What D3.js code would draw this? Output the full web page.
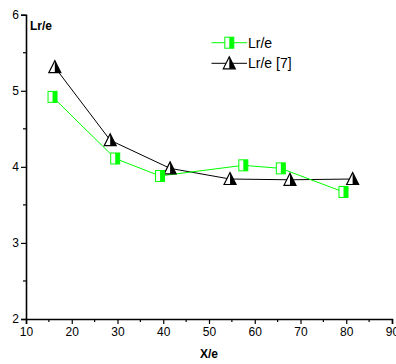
<!DOCTYPE html>
<html>
<head>
<meta charset="utf-8">
<script src="https://cdn.jsdelivr.net/npm/d3@7"></script>
<style>
  body { margin: 0; background: #fff; }
  svg { display: block; font-family: Arial, "Liberation Sans", sans-serif; }
</style>
</head>
<body>
<svg id="chart" width="396" height="364"></svg>
<script>
// datos
const xLr = [15.8, 29.5, 39.3, 57.5, 65.7, 79.4];
const yLr = [4.92, 4.11, 3.88, 4.02, 3.98, 3.67];
const xLr7 = [16.3, 28.4, 41.5, 54.6, 67.7, 81.4];
const yLr7 = [5.31, 4.35, 3.98, 3.84, 3.83, 3.84];
const xTicks = [10, 20, 30, 40, 50, 60, 70, 80, 90];
const yTicks = [2, 3, 4, 5, 6];
const seriesNames = ['Lr/e', 'Lr/e [7]'];

const GREEN = '#00ff00';
const svg = d3.select('#chart');

const x = d3.scaleLinear().domain([10, 90]).range([26, 392]);
const y = d3.scaleLinear().domain([2, 6]).range([319, 14.7]);

// ejes
const xAxis = svg.append('g').attr('transform', `translate(0,${y(2)})`)
  .call(d3.axisBottom(x).tickValues(xTicks).tickSize(5).tickPadding(3).tickFormat(d3.format('d')));
const yAxis = svg.append('g').attr('transform', `translate(${x(10)},0)`)
  .call(d3.axisLeft(y).tickValues(yTicks).tickSize(5).tickPadding(2).tickFormat(d3.format('d')));

[xAxis, yAxis].forEach(g => {
  g.select('.domain').attr('stroke', '#000').attr('stroke-width', 1.6);
  g.selectAll('.tick line').attr('stroke', '#000').attr('stroke-width', 1.2);
  g.selectAll('.tick text').attr('font-size', 12).attr('fill', '#000')
    .attr('font-family', 'Arial, "Liberation Sans", sans-serif');
});

// ticks menores
svg.append('g').selectAll('line').data(d3.range(15, 90, 10)).join('line')
  .attr('x1', d => x(d)).attr('x2', d => x(d))
  .attr('y1', y(2)).attr('y2', y(2) + 3)
  .attr('stroke', '#000').attr('stroke-width', 1.2);
svg.append('g').selectAll('line').data([2.5, 3.5, 4.5, 5.5]).join('line')
  .attr('x1', x(10) - 3).attr('x2', x(10))
  .attr('y1', d => y(d)).attr('y2', d => y(d))
  .attr('stroke', '#000').attr('stroke-width', 1.2);

// títulos de ejes
svg.append('text').attr('x', x(50)).attr('y', 358).attr('text-anchor', 'middle')
  .attr('font-size', 12).attr('font-weight', 'bold').text('X/e');
svg.append('text').attr('x', 30).attr('y', 30)
  .attr('font-size', 12).attr('font-weight', 'bold').text('Lr/e');

const line = d3.line().x(d => x(d[0])).y(d => y(d[1]));
const dataLr = xLr.map((v, i) => [v, yLr[i]]);
const dataLr7 = xLr7.map((v, i) => [v, yLr7[i]]);

svg.append('path').datum(dataLr7).attr('d', line)
  .attr('fill', 'none').attr('stroke', '#000').attr('stroke-width', 1);
svg.append('path').datum(dataLr).attr('d', line)
  .attr('fill', 'none').attr('stroke', GREEN).attr('stroke-width', 1);

// marcadores
function square(g, cx, cy) {
  g.append('rect').attr('x', cx - 4.5).attr('y', cy - 5.5).attr('width', 9).attr('height', 11)
    .attr('fill', '#fff').attr('stroke', GREEN).attr('stroke-width', 1);
  g.append('rect').attr('x', cx).attr('y', cy - 5.5).attr('width', 4.5).attr('height', 11)
    .attr('fill', GREEN);
}
function triangle(g, cx, cy) {
  g.append('path').attr('d', `M${cx},${cy - 6.5} L${cx - 6},${cy + 5.5} L${cx + 6},${cy + 5.5} Z`)
    .attr('fill', '#fff').attr('stroke', '#000').attr('stroke-width', 1.2);
  g.append('path').attr('d', `M${cx},${cy - 6.5} L${cx + 6},${cy + 5.5} L${cx},${cy + 5.5} Z`)
    .attr('fill', '#000');
}

const mk7 = svg.append('g');
dataLr7.forEach(d => triangle(mk7, x(d[0]), y(d[1])));
const mk = svg.append('g');
dataLr.forEach(d => square(mk, x(d[0]), y(d[1])));

// leyenda
const leg = svg.append('g');
const legRows = [
  { name: seriesNames[0], color: GREEN, draw: square, y: 42.7 },
  { name: seriesNames[1], color: '#000', draw: triangle, y: 63.3 }
];
legRows.forEach(r => {
  leg.append('line').attr('x1', 211.5).attr('x2', 247).attr('y1', r.y).attr('y2', r.y)
    .attr('stroke', r.color).attr('stroke-width', 1);
  r.draw(leg, 229.3, r.y);
  leg.append('text').attr('x', 248).attr('y', r.y + 5).attr('font-size', 14).text(r.name);
});
</script>
</body>
</html>
